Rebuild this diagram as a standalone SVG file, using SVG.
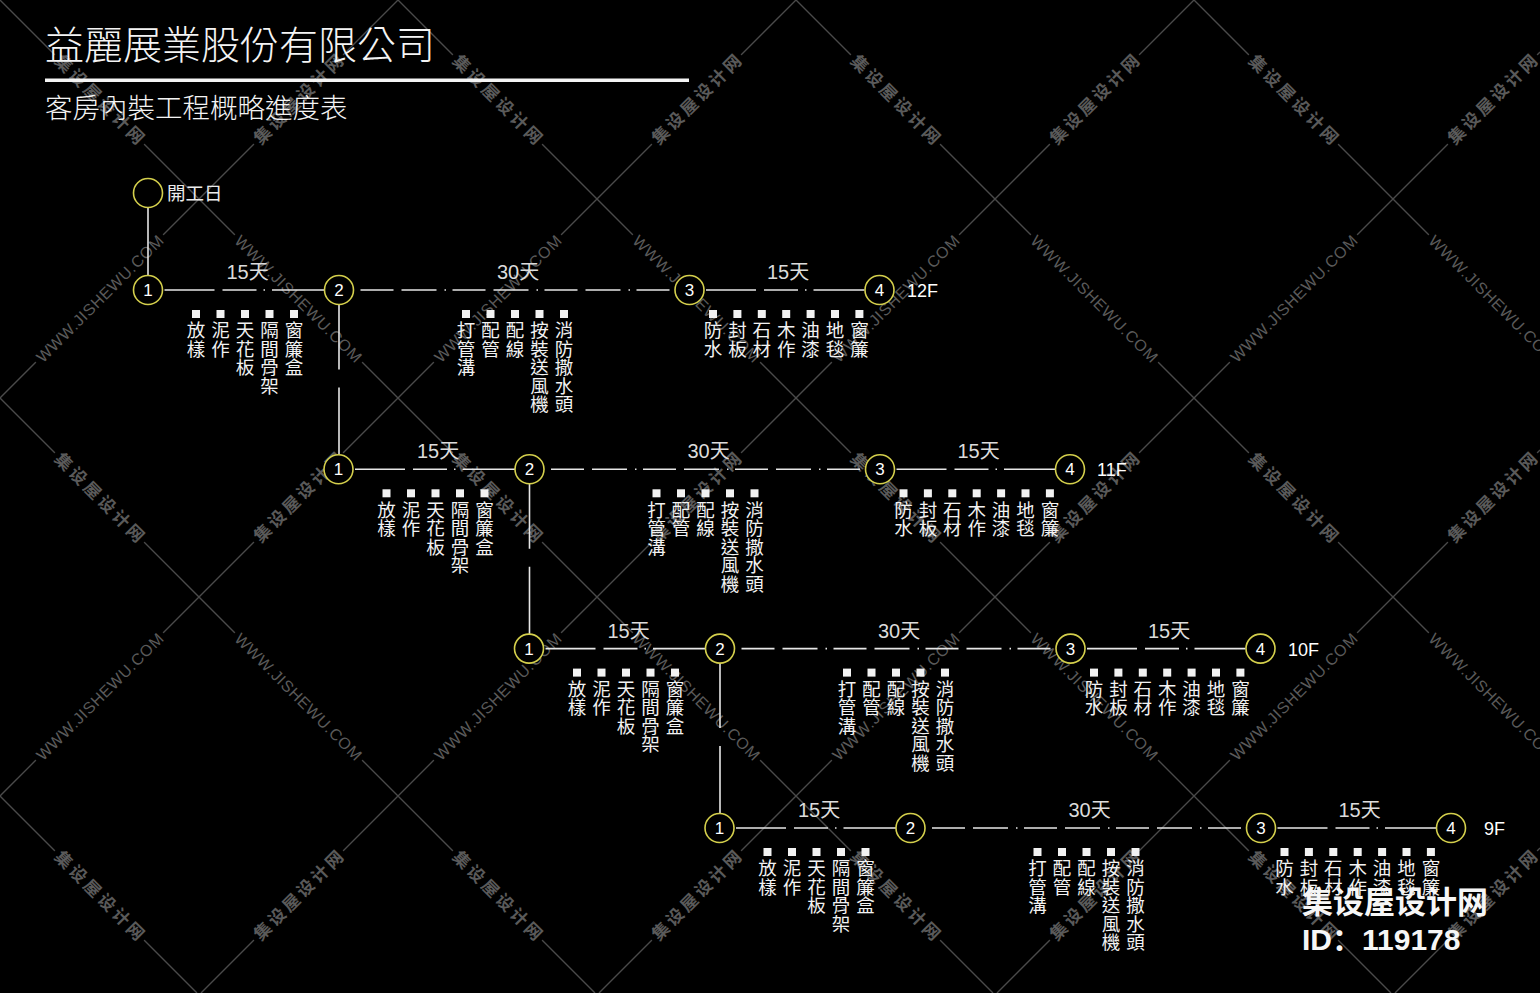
<svg xmlns="http://www.w3.org/2000/svg" xmlns:xlink="http://www.w3.org/1999/xlink" width="1540" height="993" viewBox="0 0 1540 993">
<style>
.grid{stroke:#4a4a4a;stroke-width:1.4;fill:none}
.wmt{font-family:"Liberation Sans",Arial,sans-serif;font-size:16px;fill:#5a5a5a}
.wmc{font-family:"Noto Sans CJK SC",sans-serif;font-size:17px;font-weight:bold;fill:#5a5a5a}
.ttl{font-family:"Noto Sans CJK TC",sans-serif;fill:#f4f4f4;font-weight:300}
.node circle{fill:#000;stroke:#d4cf4c;stroke-width:1.6}
.node text{font-family:"Liberation Sans",Arial,sans-serif;font-size:17px;fill:#fff;text-anchor:middle}
.lbl{font-family:"Liberation Sans",Arial,sans-serif;font-size:20px;fill:#dcdcdc;text-anchor:middle}
.lbl tspan{font-family:"Noto Sans CJK TC",sans-serif}
.fl{font-family:"Liberation Sans",Arial,sans-serif;font-size:18px;fill:#fff}
.v{font-family:"Noto Sans CJK TC",sans-serif;font-size:18.5px;fill:#f2f2f2;writing-mode:vertical-rl;text-orientation:upright}
.sq{fill:#f2f2f2}
.c{stroke:#e6e6e6;stroke-width:1.6;fill:none}
.d15{stroke-dasharray:50 8 34 7 1.5 7 300}
.d30{stroke-dasharray:33 8 35 8 1.5 6.5}
.dv{stroke-dasharray:65 18 300}
.big{font-weight:bold;fill:#f6f6f6}
</style>
<defs>
<g id="wmW"><rect x="-90" y="-3" width="180" height="6" fill="#000"/><text class="wmt" x="-86" y="6" textLength="172" lengthAdjust="spacing">WWW.JISHEWU.COM</text></g>
<g id="wmJ"><rect x="-63" y="-3" width="126" height="6" fill="#000"/><text class="wmc" x="-59" y="6" textLength="118" lengthAdjust="spacing">集设屋设计网</text></g>
</defs>
<rect width="1540" height="993" fill="#000"/>
<g id="watermark-grid">
<path class="grid" d="M0 398L398 0M0 796L796 0M201 993L1194 0M599 993L1540 52M997 993L1540 450M1395 993L1540 848M0 796L197 993M0 398L595 993M0 0L993 993M398 0L1391 993M796 0L1540 744M1194 0L1540 346"/>
<use xlink:href="#wmJ" transform="translate(99.5 99.5) rotate(45)"/>
<use xlink:href="#wmJ" transform="translate(298.5 99.5) rotate(-45)"/>
<use xlink:href="#wmJ" transform="translate(497.5 99.5) rotate(45)"/>
<use xlink:href="#wmJ" transform="translate(696.5 99.5) rotate(-45)"/>
<use xlink:href="#wmJ" transform="translate(895.5 99.5) rotate(45)"/>
<use xlink:href="#wmJ" transform="translate(1094.5 99.5) rotate(-45)"/>
<use xlink:href="#wmJ" transform="translate(1293.5 99.5) rotate(45)"/>
<use xlink:href="#wmJ" transform="translate(1492.5 99.5) rotate(-45)"/>
<use xlink:href="#wmW" transform="translate(99.5 298.5) rotate(-45)"/>
<use xlink:href="#wmW" transform="translate(298.5 298.5) rotate(45)"/>
<use xlink:href="#wmW" transform="translate(497.5 298.5) rotate(-45)"/>
<use xlink:href="#wmW" transform="translate(696.5 298.5) rotate(45)"/>
<use xlink:href="#wmW" transform="translate(895.5 298.5) rotate(-45)"/>
<use xlink:href="#wmW" transform="translate(1094.5 298.5) rotate(45)"/>
<use xlink:href="#wmW" transform="translate(1293.5 298.5) rotate(-45)"/>
<use xlink:href="#wmW" transform="translate(1492.5 298.5) rotate(45)"/>
<use xlink:href="#wmJ" transform="translate(99.5 497.5) rotate(45)"/>
<use xlink:href="#wmJ" transform="translate(298.5 497.5) rotate(-45)"/>
<use xlink:href="#wmJ" transform="translate(497.5 497.5) rotate(45)"/>
<use xlink:href="#wmJ" transform="translate(696.5 497.5) rotate(-45)"/>
<use xlink:href="#wmJ" transform="translate(895.5 497.5) rotate(45)"/>
<use xlink:href="#wmJ" transform="translate(1094.5 497.5) rotate(-45)"/>
<use xlink:href="#wmJ" transform="translate(1293.5 497.5) rotate(45)"/>
<use xlink:href="#wmJ" transform="translate(1492.5 497.5) rotate(-45)"/>
<use xlink:href="#wmW" transform="translate(99.5 696.5) rotate(-45)"/>
<use xlink:href="#wmW" transform="translate(298.5 696.5) rotate(45)"/>
<use xlink:href="#wmW" transform="translate(497.5 696.5) rotate(-45)"/>
<use xlink:href="#wmW" transform="translate(696.5 696.5) rotate(45)"/>
<use xlink:href="#wmW" transform="translate(895.5 696.5) rotate(-45)"/>
<use xlink:href="#wmW" transform="translate(1094.5 696.5) rotate(45)"/>
<use xlink:href="#wmW" transform="translate(1293.5 696.5) rotate(-45)"/>
<use xlink:href="#wmW" transform="translate(1492.5 696.5) rotate(45)"/>
<use xlink:href="#wmJ" transform="translate(99.5 895.5) rotate(45)"/>
<use xlink:href="#wmJ" transform="translate(298.5 895.5) rotate(-45)"/>
<use xlink:href="#wmJ" transform="translate(497.5 895.5) rotate(45)"/>
<use xlink:href="#wmJ" transform="translate(696.5 895.5) rotate(-45)"/>
<use xlink:href="#wmJ" transform="translate(895.5 895.5) rotate(45)"/>
<use xlink:href="#wmJ" transform="translate(1094.5 895.5) rotate(-45)"/>
<use xlink:href="#wmJ" transform="translate(1293.5 895.5) rotate(45)"/>
<use xlink:href="#wmJ" transform="translate(1492.5 895.5) rotate(-45)"/>
</g>

<g id="title">
<text class="ttl" x="45" y="59" font-size="39">益麗展業股份有限公司</text>
<rect x="45" y="78.5" width="644" height="3.5" fill="#f4f4f4"/>
<text class="ttl" x="45" y="118" font-size="27.5">客房內裝工程概略進度表</text>
</g>

<g id="connectors">
<path class="c" d="M148 207.5V275.5"/>
<g id="conn-12F">
<path class="c d15" d="M164.5 290H324.5"/>
<path class="c d30" d="M360.5 290H674.5"/>
<path class="c d15" d="M706 290H864.5"/>
<path class="c dv" d="M339 304.5V454.8"/>
</g>
<g id="conn-11F" transform="translate(190.5 179.3)">
<path class="c d15" d="M164.5 290H324.5"/>
<path class="c d30" d="M360.5 290H674.5"/>
<path class="c d15" d="M706 290H864.5"/>
<path class="c dv" d="M339 304.5V454.8"/>
</g>
<g id="conn-10F" transform="translate(381 358.6)">
<path class="c d15" d="M164.5 290H324.5"/>
<path class="c d30" d="M360.5 290H674.5"/>
<path class="c d15" d="M706 290H864.5"/>
<path class="c dv" d="M339 304.5V454.8"/>
</g>
<g id="conn-9F" transform="translate(571.5 538)">
<path class="c d15" d="M164.5 290H324.5"/>
<path class="c d30" d="M360.5 290H674.5"/>
<path class="c d15" d="M706 290H864.5"/>
</g>
</g>

<g id="start" class="node">
<circle cx="148" cy="193" r="14.5"/>
<text x="167" y="199.5" style="font-family:'Noto Sans CJK TC',sans-serif;font-size:18.5px;text-anchor:start;fill:#ececec">開工日</text>
</g>

<g id="row-12F">
<g id="n12F-1" class="node"><circle cx="148" cy="290" r="14.5"/><text x="148" y="296">1</text></g>
<g id="n12F-2" class="node"><circle cx="339" cy="290" r="14.5"/><text x="339" y="296">2</text></g>
<g id="n12F-3" class="node"><circle cx="689.5" cy="290" r="14.5"/><text x="689.5" y="296">3</text></g>
<g id="n12F-4" class="node"><circle cx="879.5" cy="290" r="14.5"/><text x="879.5" y="296">4</text></g>
<text class="lbl" x="247.5" y="279">15<tspan>天</tspan></text>
<text class="lbl" x="518" y="279">30<tspan>天</tspan></text>
<text class="lbl" x="788" y="279">15<tspan>天</tspan></text>
<text class="fl" x="907" y="297">12F</text>
<g id="i12F-a"><rect class="sq" x="192" y="310" width="8" height="8"/><rect class="sq" x="216.5" y="310" width="8" height="8"/><rect class="sq" x="241" y="310" width="8" height="8"/><rect class="sq" x="265.5" y="310" width="8" height="8"/><rect class="sq" x="290" y="310" width="8" height="8"/>
<text class="v" x="196" y="321">放樣</text><text class="v" x="220.5" y="321">泥作</text><text class="v" x="245" y="321">天花板</text><text class="v" x="269.5" y="321">隔間骨架</text><text class="v" x="294" y="321">窗簾盒</text></g>
<g id="i12F-b"><rect class="sq" x="462" y="310" width="8" height="8"/><rect class="sq" x="486.5" y="310" width="8" height="8"/><rect class="sq" x="511" y="310" width="8" height="8"/><rect class="sq" x="535.5" y="310" width="8" height="8"/><rect class="sq" x="560" y="310" width="8" height="8"/>
<text class="v" x="466" y="321">打管溝</text><text class="v" x="490.5" y="321">配管</text><text class="v" x="515" y="321">配線</text><text class="v" x="539.5" y="321">按裝送風機</text><text class="v" x="564" y="321">消防撒水頭</text></g>
<g id="i12F-c"><rect class="sq" x="709" y="310" width="8" height="8"/><rect class="sq" x="733.4" y="310" width="8" height="8"/><rect class="sq" x="757.8" y="310" width="8" height="8"/><rect class="sq" x="782.2" y="310" width="8" height="8"/><rect class="sq" x="806.6" y="310" width="8" height="8"/><rect class="sq" x="831" y="310" width="8" height="8"/><rect class="sq" x="855.4" y="310" width="8" height="8"/>
<text class="v" x="713" y="321">防水</text><text class="v" x="737.4" y="321">封板</text><text class="v" x="761.8" y="321">石材</text><text class="v" x="786.2" y="321">木作</text><text class="v" x="810.6" y="321">油漆</text><text class="v" x="835" y="321">地毯</text><text class="v" x="859.4" y="321">窗簾</text></g>
</g>

<g id="row-11F" transform="translate(190.5 179.3)">
<g id="n11F-1" class="node"><circle cx="148" cy="290" r="14.5"/><text x="148" y="296">1</text></g>
<g id="n11F-2" class="node"><circle cx="339" cy="290" r="14.5"/><text x="339" y="296">2</text></g>
<g id="n11F-3" class="node"><circle cx="689.5" cy="290" r="14.5"/><text x="689.5" y="296">3</text></g>
<g id="n11F-4" class="node"><circle cx="879.5" cy="290" r="14.5"/><text x="879.5" y="296">4</text></g>
<text class="lbl" x="247.5" y="279">15<tspan>天</tspan></text>
<text class="lbl" x="518" y="279">30<tspan>天</tspan></text>
<text class="lbl" x="788" y="279">15<tspan>天</tspan></text>
<text class="fl" x="906.5" y="297">11F</text>
<g id="i11F-a"><rect class="sq" x="192" y="310" width="8" height="8"/><rect class="sq" x="216.5" y="310" width="8" height="8"/><rect class="sq" x="241" y="310" width="8" height="8"/><rect class="sq" x="265.5" y="310" width="8" height="8"/><rect class="sq" x="290" y="310" width="8" height="8"/>
<text class="v" x="196" y="321">放樣</text><text class="v" x="220.5" y="321">泥作</text><text class="v" x="245" y="321">天花板</text><text class="v" x="269.5" y="321">隔間骨架</text><text class="v" x="294" y="321">窗簾盒</text></g>
<g id="i11F-b"><rect class="sq" x="462" y="310" width="8" height="8"/><rect class="sq" x="486.5" y="310" width="8" height="8"/><rect class="sq" x="511" y="310" width="8" height="8"/><rect class="sq" x="535.5" y="310" width="8" height="8"/><rect class="sq" x="560" y="310" width="8" height="8"/>
<text class="v" x="466" y="321">打管溝</text><text class="v" x="490.5" y="321">配管</text><text class="v" x="515" y="321">配線</text><text class="v" x="539.5" y="321">按裝送風機</text><text class="v" x="564" y="321">消防撒水頭</text></g>
<g id="i11F-c"><rect class="sq" x="709" y="310" width="8" height="8"/><rect class="sq" x="733.4" y="310" width="8" height="8"/><rect class="sq" x="757.8" y="310" width="8" height="8"/><rect class="sq" x="782.2" y="310" width="8" height="8"/><rect class="sq" x="806.6" y="310" width="8" height="8"/><rect class="sq" x="831" y="310" width="8" height="8"/><rect class="sq" x="855.4" y="310" width="8" height="8"/>
<text class="v" x="713" y="321">防水</text><text class="v" x="737.4" y="321">封板</text><text class="v" x="761.8" y="321">石材</text><text class="v" x="786.2" y="321">木作</text><text class="v" x="810.6" y="321">油漆</text><text class="v" x="835" y="321">地毯</text><text class="v" x="859.4" y="321">窗簾</text></g>
</g>

<g id="row-10F" transform="translate(381 358.6)">
<g id="n10F-1" class="node"><circle cx="148" cy="290" r="14.5"/><text x="148" y="296">1</text></g>
<g id="n10F-2" class="node"><circle cx="339" cy="290" r="14.5"/><text x="339" y="296">2</text></g>
<g id="n10F-3" class="node"><circle cx="689.5" cy="290" r="14.5"/><text x="689.5" y="296">3</text></g>
<g id="n10F-4" class="node"><circle cx="879.5" cy="290" r="14.5"/><text x="879.5" y="296">4</text></g>
<text class="lbl" x="247.5" y="279">15<tspan>天</tspan></text>
<text class="lbl" x="518" y="279">30<tspan>天</tspan></text>
<text class="lbl" x="788" y="279">15<tspan>天</tspan></text>
<text class="fl" x="907" y="297">10F</text>
<g id="i10F-a"><rect class="sq" x="192" y="310" width="8" height="8"/><rect class="sq" x="216.5" y="310" width="8" height="8"/><rect class="sq" x="241" y="310" width="8" height="8"/><rect class="sq" x="265.5" y="310" width="8" height="8"/><rect class="sq" x="290" y="310" width="8" height="8"/>
<text class="v" x="196" y="321">放樣</text><text class="v" x="220.5" y="321">泥作</text><text class="v" x="245" y="321">天花板</text><text class="v" x="269.5" y="321">隔間骨架</text><text class="v" x="294" y="321">窗簾盒</text></g>
<g id="i10F-b"><rect class="sq" x="462" y="310" width="8" height="8"/><rect class="sq" x="486.5" y="310" width="8" height="8"/><rect class="sq" x="511" y="310" width="8" height="8"/><rect class="sq" x="535.5" y="310" width="8" height="8"/><rect class="sq" x="560" y="310" width="8" height="8"/>
<text class="v" x="466" y="321">打管溝</text><text class="v" x="490.5" y="321">配管</text><text class="v" x="515" y="321">配線</text><text class="v" x="539.5" y="321">按裝送風機</text><text class="v" x="564" y="321">消防撒水頭</text></g>
<g id="i10F-c"><rect class="sq" x="709" y="310" width="8" height="8"/><rect class="sq" x="733.4" y="310" width="8" height="8"/><rect class="sq" x="757.8" y="310" width="8" height="8"/><rect class="sq" x="782.2" y="310" width="8" height="8"/><rect class="sq" x="806.6" y="310" width="8" height="8"/><rect class="sq" x="831" y="310" width="8" height="8"/><rect class="sq" x="855.4" y="310" width="8" height="8"/>
<text class="v" x="713" y="321">防水</text><text class="v" x="737.4" y="321">封板</text><text class="v" x="761.8" y="321">石材</text><text class="v" x="786.2" y="321">木作</text><text class="v" x="810.6" y="321">油漆</text><text class="v" x="835" y="321">地毯</text><text class="v" x="859.4" y="321">窗簾</text></g>
</g>

<g id="row-9F" transform="translate(571.5 538)">
<g id="n9F-1" class="node"><circle cx="148" cy="290" r="14.5"/><text x="148" y="296">1</text></g>
<g id="n9F-2" class="node"><circle cx="339" cy="290" r="14.5"/><text x="339" y="296">2</text></g>
<g id="n9F-3" class="node"><circle cx="689.5" cy="290" r="14.5"/><text x="689.5" y="296">3</text></g>
<g id="n9F-4" class="node"><circle cx="879.5" cy="290" r="14.5"/><text x="879.5" y="296">4</text></g>
<text class="lbl" x="247.5" y="279">15<tspan>天</tspan></text>
<text class="lbl" x="518" y="279">30<tspan>天</tspan></text>
<text class="lbl" x="788" y="279">15<tspan>天</tspan></text>
<text class="fl" x="912.5" y="297">9F</text>
<g id="i9F-a"><rect class="sq" x="192" y="310" width="8" height="8"/><rect class="sq" x="216.5" y="310" width="8" height="8"/><rect class="sq" x="241" y="310" width="8" height="8"/><rect class="sq" x="265.5" y="310" width="8" height="8"/><rect class="sq" x="290" y="310" width="8" height="8"/>
<text class="v" x="196" y="321">放樣</text><text class="v" x="220.5" y="321">泥作</text><text class="v" x="245" y="321">天花板</text><text class="v" x="269.5" y="321">隔間骨架</text><text class="v" x="294" y="321">窗簾盒</text></g>
<g id="i9F-b"><rect class="sq" x="462" y="310" width="8" height="8"/><rect class="sq" x="486.5" y="310" width="8" height="8"/><rect class="sq" x="511" y="310" width="8" height="8"/><rect class="sq" x="535.5" y="310" width="8" height="8"/><rect class="sq" x="560" y="310" width="8" height="8"/>
<text class="v" x="466" y="321">打管溝</text><text class="v" x="490.5" y="321">配管</text><text class="v" x="515" y="321">配線</text><text class="v" x="539.5" y="321">按裝送風機</text><text class="v" x="564" y="321">消防撒水頭</text></g>
<g id="i9F-c"><rect class="sq" x="709" y="310" width="8" height="8"/><rect class="sq" x="733.4" y="310" width="8" height="8"/><rect class="sq" x="757.8" y="310" width="8" height="8"/><rect class="sq" x="782.2" y="310" width="8" height="8"/><rect class="sq" x="806.6" y="310" width="8" height="8"/><rect class="sq" x="831" y="310" width="8" height="8"/><rect class="sq" x="855.4" y="310" width="8" height="8"/>
<text class="v" x="713" y="321">防水</text><text class="v" x="737.4" y="321">封板</text><text class="v" x="761.8" y="321">石材</text><text class="v" x="786.2" y="321">木作</text><text class="v" x="810.6" y="321">油漆</text><text class="v" x="835" y="321">地毯</text><text class="v" x="859.4" y="321">窗簾</text></g>
</g>

<g id="stamp">
<text class="big" x="1302" y="913" style="font-family:'Noto Sans CJK SC',sans-serif;font-size:31px">集设屋设计网</text>
<text class="big" x="1302" y="950" style="font-family:'Liberation Sans','Noto Sans CJK SC',sans-serif;font-size:30px">ID：119178</text>
</g>
</svg>
